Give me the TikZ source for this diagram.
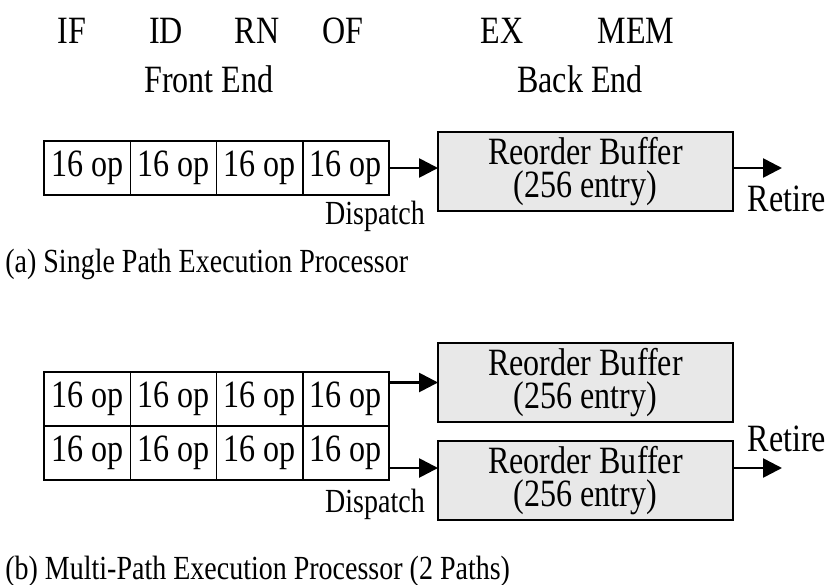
\documentclass[tikz,border=0pt]{standalone}
\usepackage{fontspec}
\setmainfont{Liberation Serif}[FakeStretch=0.83]
\usetikzlibrary{arrows.meta, positioning, calc}
\newcommand{\stagefont}{\fontsize{22}{19}\selectfont}
\newcommand{\notefont}{\fontsize{19.2}{22}\selectfont}
\tikzset{
  cell/.style = {draw, rectangle, line width=0.8pt, inner sep=0pt, outer sep=0pt,
                 minimum width=1.726cm, minimum height=1.08cm, font=\stagefont},
  rob/.style  = {draw, rectangle, fill=black!9, line width=0.8pt, align=center,
                 inner sep=0pt, outer sep=0pt,
                 minimum width=5.9cm, minimum height=1.58cm, font=\stagefont},
  arr/.style  = {-{Triangle[length=0.38cm, width=0.38cm]}, line width=1.5pt},
  lbl/.style  = {font=\stagefont, inner sep=0pt},
  note/.style = {font=\notefont, inner sep=0pt}
}

\begin{document}
\begin{tikzpicture}[x=0.02cm, y=-0.02cm]

  \useasboundingbox (0,0) rectangle (829,585);

  % ── Pipeline stage labels ─────────────────────────────────────────────────
  \node[lbl] (IF)  at (72,31)  {IF};
  \node[lbl] (ID)  at (166,31) {ID};
  \node[lbl] (RN)  at (257,31) {RN};
  \node[lbl] (OF)  at (343,31) {OF};
  \node[lbl] (EX)  at (502,31) {EX};
  \node[lbl] (MEM) at (636,31) {MEM};
  \node[lbl] (FE)  at (209,79) {Front End};
  \node[lbl] (BE)  at (580,79) {Back End};

  % ── (a) single path: front end queue ──────────────────────────────────────
  \node[cell]                  (a1) at (87.1,168) {16 op};
  \node[cell, right=0pt of a1] (a2) {16 op};
  \node[cell, right=0pt of a2] (a3) {16 op};
  \node[cell, right=0pt of a3] (a4) {16 op};

  % ── (a) reorder buffer ────────────────────────────────────────────────────
  \node[rob] (robA) at (585.5,171.5) {Reorder Buffer\\(256 entry)};
  \coordinate (outA) at (782,168);

  \draw[arr] (a4.east) -- (a4.east -| robA.west);
  \draw[arr] (robA.east |- outA) -- (outA);
  \node[note] (dispA)   at (375,216) {Dispatch};
  \node[lbl]  (retireA) at (787,199) {Retire};

  \node[note, anchor=west] (capA) at (5,264) {(a) Single Path Execution Processor};

  % ── (b) multi-path: two front end queues ──────────────────────────────────
  \node[cell]                  (b1) at (87.1,399) {16 op};
  \node[cell, right=0pt of b1] (b2) {16 op};
  \node[cell, right=0pt of b2] (b3) {16 op};
  \node[cell, right=0pt of b3] (b4) {16 op};
  \node[cell, below=0pt of b1] (c1) {16 op};
  \node[cell, right=0pt of c1] (c2) {16 op};
  \node[cell, right=0pt of c2] (c3) {16 op};
  \node[cell, right=0pt of c3] (c4) {16 op};

  % ── (b) reorder buffers ───────────────────────────────────────────────────
  \node[rob] (robB) at (585.5,382.5) {Reorder Buffer\\(256 entry)};
  \node[rob] (robC) at (585.5,480.5) {Reorder Buffer\\(256 entry)};
  \coordinate (outC) at (782,468);

  \draw[arr] (b4.east |- robB.west) -- (robB.west);
  \draw[arr] (c4.east |- outC) -- (robC.west |- outC);
  \draw[arr] (robC.east |- outC) -- (outC);
  \node[note] (dispB)   at (375,504) {Dispatch};
  \node[lbl]  (retireB) at (787,439) {Retire};

  \node[note, anchor=west] (capB) at (5,571) {(b) Multi-Path Execution Processor (2 Paths)};

\end{tikzpicture}
\end{document}
